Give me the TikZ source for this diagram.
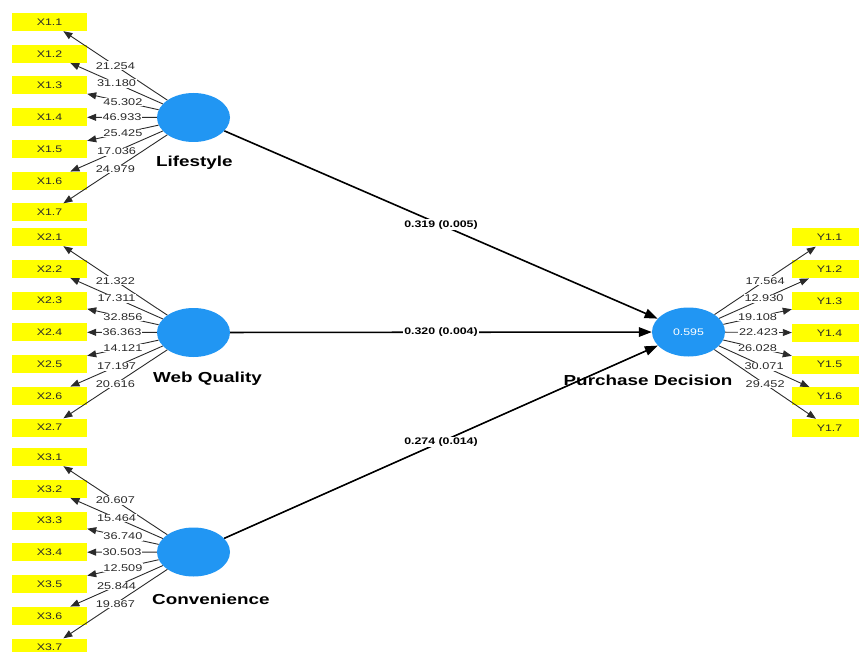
\documentclass[tikz,border=0pt]{standalone}
\usepackage{fontspec}
\setmainfont{Liberation Sans}[FakeStretch=1.3]
\usetikzlibrary{shapes.geometric, arrows.meta, positioning}
\definecolor{latentblue}{HTML}{2196F3}
\definecolor{itemyellow}{HTML}{FFFF00}
\definecolor{linegray}{HTML}{2A2A2A}

\begin{document}
\begin{tikzpicture}[
  x=1pt, y=-1pt,
  % latent variables
  latent/.style={ellipse, fill=latentblue, minimum width=73pt, minimum height=49pt,
                 inner sep=0pt, text=white, font=\fontsize{9.5}{10}\selectfont},
  lvname/.style={font=\fontsize{14.5}{16}\selectfont\bfseries, inner sep=0pt},
  % indicator boxes
  item/.style={fill=itemyellow, minimum width=75pt, minimum height=18pt, inner sep=0pt,
               text=linegray, font=\fontsize{9.5}{10}\selectfont},
  % outer loadings
  load/.style={-{Triangle[length=9pt, width=7pt]}, linegray, line width=0.9pt},
  loadval/.style={midway, fill=white, inner sep=0.8pt, text=linegray,
                  font=\fontsize{9.8}{10}\selectfont},
  % structural paths
  structarr/.style={-{Triangle[length=13pt, width=9.5pt]}, black, line width=1.6pt},
  pathval/.style={midway, fill=white, inner sep=1pt, font=\fontsize{9.5}{10}\selectfont\bfseries},
]

\useasboundingbox (0,0) rectangle (859,652);
\clip (0,0) rectangle (859,652);

% ── LATENT VARIABLES ──────────────────────────────
\node[latent] (ls) at (193.5,117.5) {};
\node[latent] (wq) at (193.5,332.5) {};
\node[latent] (cv) at (193.5,552) {};
\node[latent] (pd) at (688.5,332) {0.595};

\node[lvname, anchor=west] (lsname) at (156,163) {Lifestyle};
\node[lvname, anchor=west] (wqname) at (153,379) {Web Quality};
\node[lvname, anchor=west] (cvname) at (152,599) {Convenience};
\node[lvname] (pdname) at (648,380) {Purchase Decision};

% ── INDICATORS ────────────────────────────────────
\foreach \i in {1,...,7} {
  \node[item] (x1\i) at (49.5,{22+31.75*(\i-1)}) {X1.\i};
  \node[item] (x2\i) at (49.5,{237+31.75*(\i-1)}) {X2.\i};
  \node[item] (x3\i) at (49.5,{457+31.75*(\i-1)}) {X3.\i};
  \node[item] (y1\i) at (829.5,{237.5+31.75*(\i-1)}) {Y1.\i};
}

% ── OUTER LOADINGS ────────────────────────────────
\foreach \i/\v in {1/21.254, 2/31.180, 3/45.302, 4/46.933, 5/25.425, 6/17.036, 7/24.979} {
  \draw[load] (ls) -- node[loadval] {\v} (x1\i);
}
\foreach \i/\v in {1/21.322, 2/17.311, 3/32.856, 4/36.363, 5/14.121, 6/17.197, 7/20.616} {
  \draw[load] (wq) -- node[loadval] {\v} (x2\i);
}
\foreach \i/\v in {1/20.607, 2/15.464, 3/36.740, 4/30.503, 5/12.509, 6/25.844, 7/19.867} {
  \draw[load] (cv) -- node[loadval] {\v} (x3\i);
}
\foreach \i/\v in {1/17.564, 2/12.930, 3/19.108, 4/22.423, 5/26.028, 6/30.071, 7/29.452} {
  \draw[load] (pd) -- node[loadval] {\v} (y1\i);
}

% ── STRUCTURAL PATHS ──────────────────────────────
\foreach \a/\v in {ls/{0.319 (0.005)}, wq/{0.320 (0.004)}, cv/{0.274 (0.014)}} {
  \draw[structarr] (\a) -- node[pathval] {\v} (pd);
}

\end{tikzpicture}
\end{document}
